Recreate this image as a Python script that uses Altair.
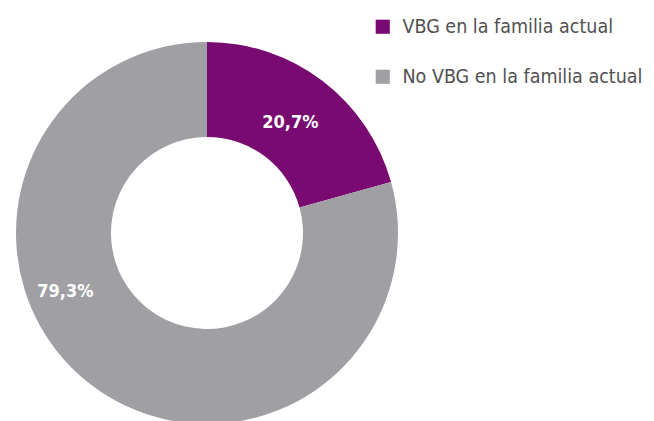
import altair as alt
import pandas as pd

categories = ["VBG en la familia actual", "No VBG en la familia actual"]
values = [20.7, 79.3]
labels = ["20,7%", "79,3%"]
colors = ["#780A71", "#A09FA4"]

df = pd.DataFrame({"cat": categories, "value": values, "label": labels, "order": [0, 1]})

CX, CY = 199, 225
FONT = "DejaVu Sans Condensed, Roboto Condensed, sans-serif"

base = alt.Chart(df).encode(
    theta=alt.Theta("value:Q", stack=True),
    order=alt.Order("order:Q"),
    x=alt.value(CX),
    y=alt.value(CY),
)

arcs = base.mark_arc(innerRadius=96, outerRadius=191, stroke=None).encode(
    color=alt.Color(
        "cat:N",
        scale=alt.Scale(domain=categories, range=colors),
        sort=categories,
        legend=alt.Legend(
            title=None,
            orient="none",
            legendX=365,
            legendY=9,
            symbolType="square",
            symbolSize=200,
            symbolStrokeWidth=0,
            labelFontSize=19.5,
            labelFont=FONT,
            labelColor="#505050",
            labelOffset=10,
            rowPadding=29,
            labelLimit=400,
        ),
    )
)

t1 = base.transform_calculate(
    lab="datum.order == 0 ? datum.label : ''"
).mark_text(radius=141, dx=-2, dy=2, font=FONT, fontSize=18, fontWeight="bold", color="white").encode(
    text="lab:N"
)

t2 = base.transform_calculate(
    lab="datum.order == 1 ? datum.label : ''"
).mark_text(radius=143, dx=-55, dy=-55, font=FONT, fontSize=18, fontWeight="bold", color="white").encode(
    text="lab:N"
)

chart = alt.layer(arcs, t1, t2).properties(
    width=638, height=413, autosize=alt.AutoSizeParams(type="none"), padding=0
).configure_view(stroke=None)

chart.save("out.html", embed_options={"renderer": "svg", "actions": False})
